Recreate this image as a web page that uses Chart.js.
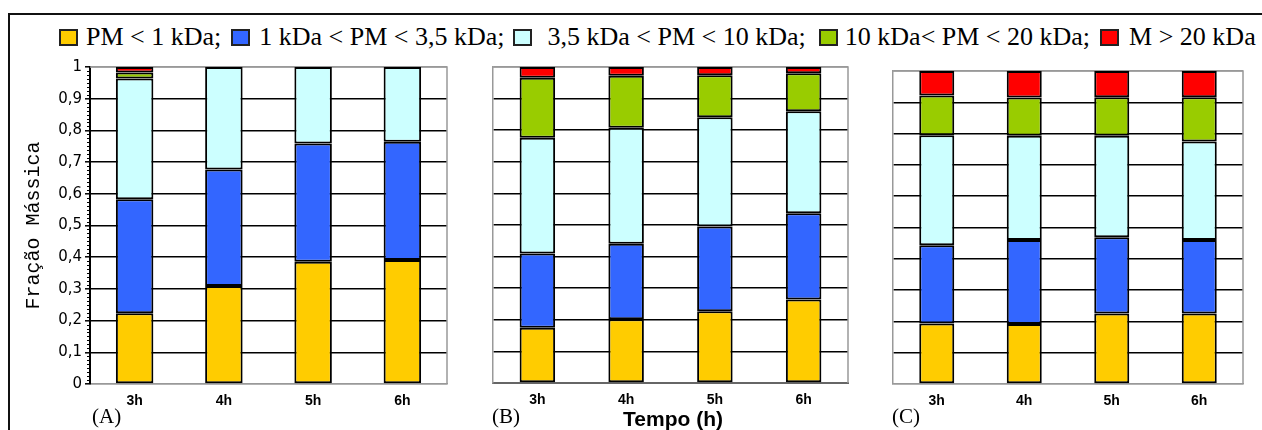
<!DOCTYPE html>
<html>
<head>
<meta charset="utf-8">
<script src="https://cdn.jsdelivr.net/npm/chart.js"></script>
<style>
html,body{margin:0;padding:0;background:#fff;width:1262px;height:430px;overflow:hidden;}
#wrap{position:relative;width:1262px;height:430px;background:#fff;}
canvas{position:absolute;}
.frame{position:absolute;left:8px;top:13px;width:1300px;height:500px;border-left:2px solid #111;border-top:2px solid #111;pointer-events:none;box-sizing:border-box;}
#legend{position:absolute;left:59px;top:22px;display:flex;align-items:flex-start;white-space:pre;font-family:'Liberation Serif','Times New Roman',serif;font-size:26px;line-height:30px;color:#000;}
#legend .sq{display:inline-block;box-sizing:border-box;width:19px;height:17px;border:2px solid #222;margin-top:7px;}
.plab{position:absolute;top:404px;font-family:'Liberation Serif','Times New Roman',serif;font-size:21px;line-height:24px;color:#000;white-space:pre;}
.xtitle{position:absolute;top:407px;left:573px;width:200px;text-align:center;font-family:'Liberation Sans',Arial,sans-serif;font-weight:bold;font-size:21px;line-height:24px;color:#000;white-space:pre;}
</style>
</head>
<body>
<div id="wrap">
  <div id="legend"></div>
  <canvas id="cA" width="460" height="370" style="left:0px;top:50px;"></canvas>
  <canvas id="cB" width="390" height="370" style="left:470px;top:50px;"></canvas>
  <canvas id="cC" width="400" height="370" style="left:860px;top:50px;"></canvas>
  <div class="plab" id="labA" style="left:92px;"></div>
  <div class="plab" id="labB" style="left:492px;"></div>
  <div class="plab" id="labC" style="left:892px;"></div>
  <div class="xtitle" id="xt"></div>
  <div class="frame"></div>
</div>
<script>
// ---------- data ----------
const categories = ['3h', '4h', '5h', '6h'];
const seriesNames = ['PM < 1 kDa;', '1 kDa < PM < 3,5 kDa;', '3,5 kDa < PM < 10 kDa;', '10 kDa< PM < 20 kDa;', 'M > 20 kDa'];
const yTickLabels = ['0', '0,1', '0,2', '0,3', '0,4', '0,5', '0,6', '0,7', '0,8', '0,9', '1'];
const yAxisTitle = 'Fração Mássica';
const xAxisTitle = 'Tempo (h)';
const panelLabels = ['(A)', '(B)', '(C)'];

// Panel A
const A_pm1   = [0.223, 0.309, 0.386, 0.391];
const A_pm35  = [0.360, 0.368, 0.373, 0.373];
const A_pm10  = [0.381, 0.323, 0.241, 0.236];
const A_pm20  = [0.019, 0, 0, 0];
const A_pmGt  = [0.017, 0, 0, 0];
// Panel B
const B_pm1   = [0.175, 0.202, 0.227, 0.264];
const B_pm35  = [0.235, 0.239, 0.268, 0.273];
const B_pm10  = [0.366, 0.367, 0.346, 0.323];
const B_pm20  = [0.190, 0.164, 0.133, 0.120];
const B_pmGt  = [0.034, 0.028, 0.026, 0.020];
// Panel C
const C_pm1   = [0.193, 0.192, 0.225, 0.225];
const C_pm35  = [0.250, 0.268, 0.244, 0.235];
const C_pm10  = [0.352, 0.333, 0.324, 0.315];
const C_pm20  = [0.127, 0.122, 0.123, 0.141];
const C_pmGt  = [0.078, 0.085, 0.084, 0.084];

// ---------- styles ----------
const colors = ['#FFCC00', '#3366FF', '#CCFFFF', '#99CC00', '#FF0000'];
const legendGapBefore = [0, 10, 8, 13, 10];
const legendGapAfter = [8, 9, 16, 7, 10];

// legend
const lg = document.getElementById('legend');
seriesNames.forEach((n, i) => {
  const sq = document.createElement('span');
  sq.className = 'sq';
  sq.style.background = colors[i];
  sq.style.marginLeft = legendGapBefore[i] + 'px';
  sq.style.marginRight = legendGapAfter[i] + 'px';
  lg.appendChild(sq);
  const t = document.createElement('span');
  t.textContent = n;
  lg.appendChild(t);
});
document.getElementById('labA').textContent = panelLabels[0];
document.getElementById('labB').textContent = panelLabels[1];
document.getElementById('labC').textContent = panelLabels[2];
document.getElementById('xt').textContent = xAxisTitle;

Chart.defaults.animation = false;

const framePlugin = {
  id: 'frameTR',
  beforeDatasetsDraw(chart) {
    const {ctx, chartArea: {left, right, top, bottom}} = chart;
    ctx.save();
    ctx.strokeStyle = '#999';
    ctx.lineWidth = 1.5;
    ctx.beginPath();
    ctx.moveTo(left, top);
    ctx.lineTo(right, top);
    ctx.lineTo(right, bottom);
    ctx.stroke();
    ctx.restore();
  }
};

const minorTickPlugin = {
  id: 'minorTicks',
  afterDraw(chart) {
    const y = chart.scales.y;
    const ctx = chart.ctx;
    const x0 = chart.chartArea.left;
    ctx.save();
    ctx.strokeStyle = '#000';
    ctx.lineWidth = 1;
    ctx.beginPath();
    for (let k = 0; k <= 80; k++) {
      if (k % 8 === 0) continue;
      const py = Math.round(y.getPixelForValue(k / 80)) + 0.5;
      ctx.moveTo(x0 - 3, py);
      ctx.lineTo(x0, py);
    }
    ctx.stroke();
    ctx.restore();
  }
};

function makeDatasets(arrs, barPct) {
  return arrs.map((d, i) => ({
    label: seriesNames[i],
    data: d,
    backgroundColor: colors[i],
    borderColor: '#000',
    borderWidth: 2,
    borderSkipped: false,
    barPercentage: barPct,
    categoryPercentage: 1
  }));
}

function makeChart(id, arrs, cfg) {
  const isA = cfg.axisLabels;
  return new Chart(document.getElementById(id), {
    type: 'bar',
    data: { labels: categories, datasets: makeDatasets(arrs, cfg.barPct) },
    plugins: isA ? [framePlugin, minorTickPlugin] : [framePlugin],
    options: {
      responsive: false,
      devicePixelRatio: 1,
      animation: false,
      layout: { padding: { left: 0, right: cfg.padRight, top: cfg.padTop, bottom: 0 } },
      plugins: { legend: { display: false }, tooltip: { enabled: false } },
      scales: {
        x: {
          stacked: true,
          grid: { display: false, drawTicks: false, tickLength: 0 },
          border: { display: true, color: cfg.bottomColor, width: cfg.bottomWidth },
          ticks: {
            color: '#000',
            padding: 9,
            font: { family: "'Liberation Sans', Arial, sans-serif", weight: 'bold', size: 14 }
          },
          afterFit: s => { s.height = cfg.xHeight; }
        },
        y: {
          stacked: true,
          min: 0,
          max: 1,
          ticks: {
            display: isA,
            stepSize: 0.1,
            color: '#000',
            padding: 3,
            font: { family: "'DejaVu Sans', Verdana, sans-serif", size: 15 },
            callback: (v, i) => yTickLabels[i]
          },
          grid: {
            color: c => {
              const v = c.tick ? c.tick.value : 0.5;
              if (Math.abs(v - 1) < 1e-6) return '#999';
              if (Math.abs(v) < 1e-6) return cfg.bottomColor;
              return '#000';
            },
            lineWidth: 1.6,
            drawTicks: isA,
            tickLength: isA ? 5 : 0,
            tickColor: '#000',
            tickWidth: 1.5
          },
          border: { display: true, color: isA ? '#000' : '#999', width: isA ? 2 : 1.5 },
          title: {
            display: isA,
            text: yAxisTitle,
            color: '#000',
            padding: { top: 22, bottom: 0 },
            font: { family: "'Liberation Mono', 'Courier New', monospace", size: 20 }
          },
          afterFit: s => { s.width = cfg.yWidth; }
        }
      }
    }
  });
}

makeChart('cA', [A_pm1, A_pm35, A_pm10, A_pm20, A_pmGt],
  { axisLabels: true, barPct: 0.42, padRight: 13, padTop: 17, yWidth: 90, xHeight: 36, bottomColor: '#999', bottomWidth: 1.5 });
makeChart('cB', [B_pm1, B_pm35, B_pm10, B_pm20, B_pmGt],
  { axisLabels: false, barPct: 0.40, padRight: 12, padTop: 17, yWidth: 23, xHeight: 37, bottomColor: '#666', bottomWidth: 2 });
makeChart('cC', [C_pm1, C_pm35, C_pm10, C_pm20, C_pmGt],
  { axisLabels: false, barPct: 0.40, padRight: 17, padTop: 21, yWidth: 33, xHeight: 36, bottomColor: '#999', bottomWidth: 1.5 });
</script>
</body>
</html>
